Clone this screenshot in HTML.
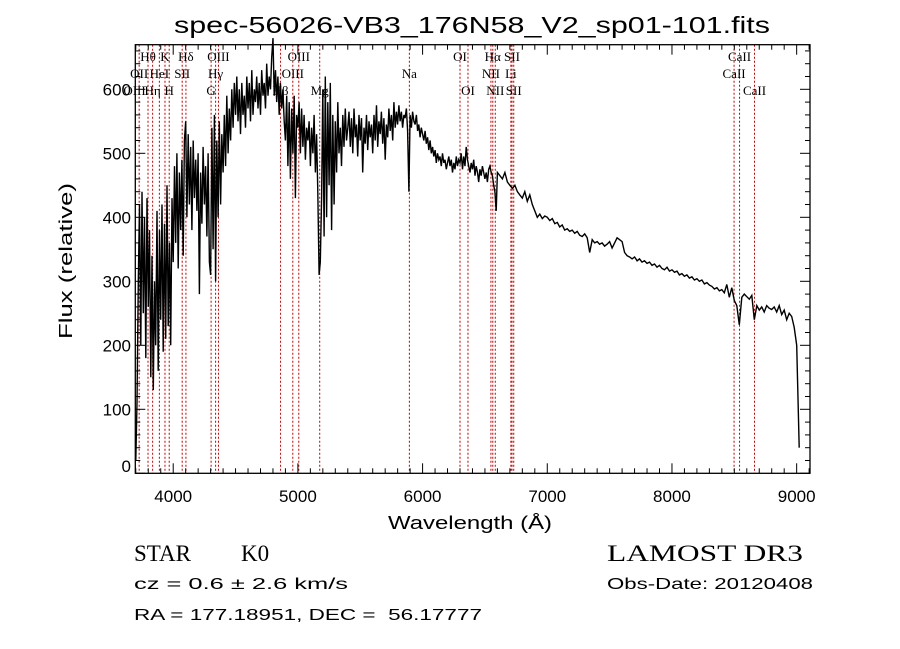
<!DOCTYPE html>
<html><head><meta charset="utf-8">
<style>
html,body{margin:0;padding:0;background:#fff;}
svg{display:block;}
</style></head>
<body>
<svg id="chart" width="900" height="649" viewBox="0 0 900 649" xmlns="http://www.w3.org/2000/svg">
<rect width="900" height="649" fill="#fff"/>
<text x="472" y="33" text-anchor="middle" font-family="Liberation Sans, sans-serif" font-size="23" textLength="596" lengthAdjust="spacingAndGlyphs">spec-56026-VB3_176N58_V2_sp01-101.fits</text>
<g id="lines"></g>
<g id="ticks"></g>
<path id="spec" fill="none" stroke="#000" stroke-width="1.4" stroke-linejoin="miter"/>
<rect x="135.3" y="44.7" width="674.7" height="428.6" fill="none" stroke="#000" stroke-width="1.3"/>
<text x="470" y="529" text-anchor="middle" font-family="Liberation Sans, sans-serif" font-size="18" textLength="164" lengthAdjust="spacingAndGlyphs">Wavelength (Å)</text>
<text transform="translate(72,261) rotate(-90)" text-anchor="middle" font-family="Liberation Sans, sans-serif" font-size="18" textLength="156" lengthAdjust="spacingAndGlyphs">Flux (relative)</text>
<text x="134" y="561" font-family="Liberation Serif, serif" font-size="23">STAR</text>
<text x="241" y="561" font-family="Liberation Serif, serif" font-size="23">K0</text>
<text x="607" y="561" font-family="Liberation Serif, serif" font-size="23" textLength="196" lengthAdjust="spacingAndGlyphs">LAMOST DR3</text>
<text x="134" y="589" font-family="Liberation Sans, sans-serif" font-size="16" textLength="214" lengthAdjust="spacingAndGlyphs">cz = 0.6 ± 2.6 km/s</text>
<text x="607" y="589" font-family="Liberation Sans, sans-serif" font-size="16" textLength="206" lengthAdjust="spacingAndGlyphs">Obs-Date: 20120408</text>
<text x="134" y="620" font-family="Liberation Sans, sans-serif" font-size="16" textLength="348" lengthAdjust="spacingAndGlyphs" xml:space="preserve">RA = 177.18951, DEC =  56.17777</text>
</svg>
<script>
// ---- data ----
const blueStart = 3700, blueStep = 10;
const blueFlux = [
20,110,300,420,200,440,250,400,180,430,
260,380,150,340,130,300,200,410,160,380,
240,420,190,390,210,450,230,360,200,430,
330,480,360,500,320,470,380,490,340,520,
550,400,530,420,510,380,520,430,490,410,
500,280,470,390,510,420,480,370,500,330,
310,540,350,560,300,520,400,550,420,530,
470,560,480,590,500,570,520,600,540,610,
560,620,550,600,530,610,560,590,540,620,
570,610,550,630,560,600,580,620,570,610,
560,630,590,610,570,640,590,620,600,650,
680,590,630,580,620,560,610,570,600,550,
520,590,480,580,460,570,500,590,430,560,
540,580,500,570,510,560,490,540,520,550,
480,540,500,560,470,530,440,310,330,430,
600,370,620,400,580,450,610,380,560,420,
550,470,580,500,540,480,560,510,570,520];
const midStart = 5400, midStep = 10;
const midFlux = [
540,565,510,555,500,570,525,545,495,560,
520,555,470,540,515,560,505,550,525,545,
500,560,520,575,510,550,530,565,515,555,
490,545,525,570,535,560,520,580,540,565,
545,575,550,565,540,560,555,570,535,440,
560,540,565,550,545,560,535,545,525,540,
530,520,535,515,525,505,520,500,510,495,
505,485,500,490,495,480,500,485,490,475,
485,495,480,490,470,485,475,495,480,490,
485,500,475,495,480,510,490,480,470,485,
475,490,465,480,470,455,475,465,480,470,
460,470,455,475,480,470,465,450,440,410];
const redStart = 6600, redStep = 20;
const redFlux = [
470,465,460,470,455,450,445,450,440,435,
430,440,425,435,420,410,400,405,398,402,
400,395,398,390,392,385,388,380,382,378,
380,375,378,372,370,374,368,345,365,360,
362,358,360,355,358,362,352,360,368,365,
362,345,340,338,335,338,332,335,330,332,
328,330,325,327,322,325,320,318,322,316,
318,314,316,310,312,308,310,305,307,302,
304,300,302,296,298,294,292,288,290,285,
287,282,295,275,290,270,262,232,275,280,
276,272,278,240,262,255,260,252,262,258,
256,260,252,262,248,255,240,250,245,228,
200,40];
const lineWaves = [3727,3798,3835,3889,3934,3968,4072,4102,4304,4340,4363,4861,4959,5007,5175,5894,6300,6364,6548,6563,6583,6708,6717,6731,8498,8542,8662];
const labelText = ["Hθ","K","Hδ","OIII","OIII","OI","Hα","SII","CaII",
                   "OII","HeI","SII","Hγ","OIII","Na","NII","Li","CaII",
                   "OIII","Hη","H","G","Hβ","Mg","OI","NII","SII","CaII"];
const labelWave = [3798,3934,4102,4363,5007,6300,6563,6717,8542,
                   3727,3889,4072,4340,4959,5894,6548,6708,8498,
                   3690,3835,3968,4304,4861,5175,6364,6583,6731,8662];
const labelRow = [0,0,0,0,0,0,0,0,0, 1,1,1,1,1,1,1,1,1, 2,2,2,2,2,2,2,2,2,2];
const xTicks = [4000,5000,6000,7000,8000,9000];
const yTicks = [0,100,200,300,400,500,600];

// ---- axes ----
const X0=135.3,X1=810,Y0=473.3,Y1=44.7;
const xmin=3696,xmax=9107,ymin=0,ymax=669.7;
const sx=w=>X0+(w-xmin)/(xmax-xmin)*(X1-X0);
const sy=f=>Y0-(f-ymin)/(ymax-ymin)*(Y0-Y1);
const NS="http://www.w3.org/2000/svg";

// spectrum
let pts=[];
blueFlux.forEach((f,i)=>{const w=blueStart+i*blueStep; if(w<midStart) pts.push([sx(w),sy(f)]);});
midFlux.forEach((f,i)=>{const w=midStart+i*midStep; if(w<redStart) pts.push([sx(w),sy(f)]);});
redFlux.forEach((f,i)=>{pts.push([sx(redStart+i*redStep),sy(f)]);});
document.getElementById('spec').setAttribute('d',pts.map((p,i)=>(i?'L':'M')+p[0].toFixed(1)+' '+p[1].toFixed(1)).join(' '));

// line markers
const lg=document.getElementById('lines');
lineWaves.forEach(w=>{
  const l=document.createElementNS(NS,'line');
  
  
  const x=sx(w);
  l.setAttribute('x1',x);l.setAttribute('x2',x);l.setAttribute('y1',Y1);l.setAttribute('y2',Y0);
  l.setAttribute('stroke','#c00000');l.setAttribute('stroke-width','1');l.setAttribute('stroke-dasharray','2,2');
  lg.appendChild(l);
});
const rowY=[61,78,95];
labelText.forEach((t,i)=>{
  const e=document.createElementNS(NS,'text');
  
  
  e.setAttribute('x',sx(labelWave[i]));e.setAttribute('y',rowY[labelRow[i]]);
  e.setAttribute('text-anchor','middle');e.setAttribute('font-family','Liberation Serif, serif');e.setAttribute('font-size','13');
  e.textContent=t;lg.appendChild(e);
});

// ticks
const tg=document.getElementById('ticks');
function ln(x1,y1,x2,y2){const l=document.createElementNS(NS,'line');
  l.setAttribute('x1',x1);l.setAttribute('y1',y1);l.setAttribute('x2',x2);l.setAttribute('y2',y2);
  l.setAttribute('stroke','#000');l.setAttribute('stroke-width','1');tg.appendChild(l);}
for(let w=3700;w<=9100;w+=100){const x=sx(w);const big=w%1000===0;const L=big?10:5;
  ln(x,Y0,x,Y0-L);ln(x,Y1,x,Y1+L);}
for(let f=0;f<=660;f+=20){const y=sy(f);const big=f%100===0;const L=big?10:5;
  ln(X0,y,X0+L,y);ln(X1,y,X1-L,y);}
xTicks.forEach(w=>{const e=document.createElementNS(NS,'text');
  
  
  e.setAttribute('x',sx(w));e.setAttribute('y',502);e.setAttribute('text-anchor','middle');
  e.setAttribute('font-family','Liberation Sans, sans-serif');e.setAttribute('font-size','17');
  e.textContent=w;tg.appendChild(e);});
yTicks.forEach(f=>{const e=document.createElementNS(NS,'text');
  
  
  e.setAttribute('x',131);e.setAttribute('y',Math.min(sy(f)+6,472));e.setAttribute('text-anchor','end');
  e.setAttribute('font-family','Liberation Sans, sans-serif');e.setAttribute('font-size','17');
  e.textContent=f;tg.appendChild(e);});
</script>
</body></html>
